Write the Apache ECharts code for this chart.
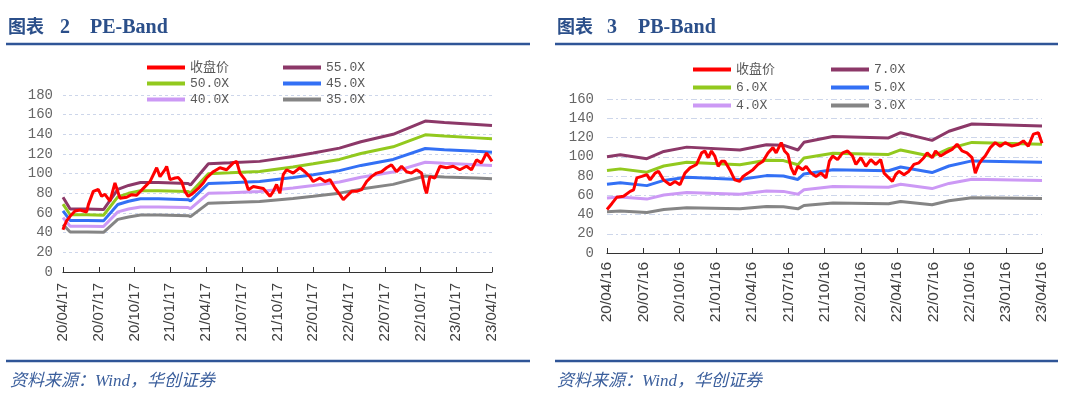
<!DOCTYPE html>
<html>
<head>
<meta charset="utf-8">
<script src="https://cdn.jsdelivr.net/npm/echarts@6/dist/echarts.min.js"></script>
<style>
  html, body { margin: 0; padding: 0; background: #fff; }
  #chart { width: 1080px; height: 399px; }
</style>
</head>
<body>
<div id="chart"></div>
<script>
// x positions are months counted from the first tick (20/04/xx)
var peTicks = ['20/04/17', '20/07/17', '20/10/17', '21/01/17', '21/04/17', '21/07/17', '21/10/17',
    '22/01/17', '22/04/17', '22/07/17', '22/10/17', '23/01/17', '23/04/17'];
var pbTicks = ['20/04/16', '20/07/16', '20/10/16', '21/01/16', '21/04/16', '21/07/16', '21/10/16',
    '22/01/16', '22/04/16', '22/07/16', '22/10/16', '23/01/16', '23/04/16'];

// PE-Band
var pePriceMonth = [0, 0.08, 0.3, 0.59, 1.01, 1.43, 1.98, 2.13, 2.54, 2.96, 3.24, 3.52, 3.94, 4.36, 4.78, 5.34, 5.76, 6.18, 6.74, 7.3,
    7.86, 8.14, 8.56, 8.7, 8.98, 9.4, 9.68, 9.95, 10.23, 10.51, 10.79, 11.35, 11.77, 12.05, 12.61, 13.17, 13.73, 14.29, 14.57, 14.85,
    15.27, 15.55, 15.97, 16.81, 17.37, 17.65, 17.92, 18.2, 18.48, 18.76, 19.32, 19.88, 20.3, 20.72, 21.0, 21.56, 21.98, 22.4, 22.82, 23.24,
    23.52, 23.8, 24.22, 24.64, 25.06, 25.48, 25.89, 26.31, 26.73, 27.15, 27.57, 27.99, 28.41, 28.83, 29.25, 29.67, 30.09, 30.37, 30.51, 30.79,
    31.21, 31.63, 32.19, 32.75, 33.3, 33.86, 34.28, 34.7, 35.12, 35.54, 35.82, 36.0];
var pePrice = [43, 46, 52, 56.6, 62, 63, 61, 68.5, 82, 84, 77, 79, 72, 90.5, 75, 76, 78.6, 78, 85, 92,
    106, 97, 104, 107.5, 94, 95.6, 96, 92, 82, 77, 79, 85, 90.5, 95.6, 102, 106, 104, 111, 112.5, 100.6,
    94, 83.7, 87, 85, 77, 82, 89, 80, 99, 104, 100.6, 106, 102, 97, 92, 95.6, 92, 94, 85.4, 78.6,
    73.6, 77, 82, 82, 83.7, 92, 97, 100.6, 102, 106, 109, 102, 107.5, 102, 100.6, 104, 100.6, 85, 80, 97,
    95.6, 107.5, 106, 107.5, 104, 107.5, 104, 114, 111, 121, 116, 112.5];
var peBandMonth = [0, 0.6, 2, 3.4, 4.6, 5.5, 6.5, 8, 10.5, 10.7, 12.2, 14, 16.5, 19.3, 21, 23.2, 25, 27.7, 30.4, 32, 34.7, 36];
var pe55 = [76, 64, 64, 63.5, 84, 88, 91, 91, 90, 88.5, 110, 111, 112.5, 117.5, 121, 126, 132.5, 140, 153.5, 152, 150, 149];
var pe50 = [69.1, 58.2, 58.2, 57.7, 76.4, 80, 82.7, 82.7, 81.8, 80.5, 100, 100.9, 102.3, 106.8, 110, 114.5, 120.5, 127.3, 139.5, 138.2, 136.4, 135.5];
var pe45 = [62.2, 52.4, 52.4, 52, 68.7, 72, 74.5, 74.5, 73.6, 72.4, 90, 90.8, 92, 96.1, 99, 103.1, 108.4, 114.5, 125.6, 124.4, 122.7, 121.9];
var pe40 = [55.3, 46.5, 46.5, 46.2, 61.1, 64, 66.2, 66.2, 65.5, 64.4, 80, 80.7, 81.8, 85.5, 88, 91.6, 96.4, 101.8, 111.6, 110.5, 109.1, 108.4];
var pe35 = [48.4, 40.7, 40.7, 40.4, 53.5, 56, 57.9, 57.9, 57.3, 56.3, 70, 70.6, 71.6, 74.8, 77, 80.2, 84.3, 89.1, 97.7, 96.7, 95.5, 94.8];

// PB-Band
var pbPriceMonth = [0, 0.41, 0.82, 1.37, 1.92, 2.2, 2.47, 2.88, 3.3, 3.57, 3.98, 4.26, 4.67, 5.22, 5.63, 6.04, 6.45, 6.87, 7.41, 7.83,
    8.1, 8.38, 8.65, 8.92, 9.2, 9.47, 9.75, 10.16, 10.57, 10.98, 11.26, 11.67, 12.08, 12.49, 12.91, 13.32, 13.73, 14.0, 14.42, 14.69,
    14.97, 15.24, 15.51, 15.79, 16.2, 16.48, 16.89, 17.3, 17.71, 18.12, 18.4, 18.67, 19.08, 19.5, 19.91, 20.32, 20.6, 21.01, 21.42, 21.83,
    22.24, 22.65, 22.93, 23.2, 23.62, 23.89, 24.16, 24.58, 24.99, 25.4, 25.81, 26.22, 26.5, 26.91, 27.19, 27.6, 28.01, 28.56, 28.97, 29.38,
    29.79, 30.21, 30.48, 30.76, 31.03, 31.3, 31.72, 32.13, 32.54, 32.95, 33.5, 34.05, 34.46, 34.87, 35.29, 35.7, 36.0];
var pbPrice = [45.2, 51.5, 58, 59, 64, 65.6, 78, 79.6, 81.4, 76, 83, 85, 76, 70.9, 74.4, 70.9, 83, 88.4, 92, 104,
    106, 99, 106, 100.7, 90, 95.4, 95.4, 86.6, 76, 74.4, 79.6, 83, 86.6, 92, 95.4, 104, 109.5, 104, 114.7, 106,
    102.4, 88.4, 81.4, 90, 86.6, 90, 83, 79.6, 83, 78, 95.4, 100.7, 97, 104, 106, 100.7, 92, 99, 90, 97,
    92, 97, 83, 79.6, 74.4, 81.4, 85, 81.4, 85, 92, 93.7, 99, 104, 99, 106, 100.7, 104, 107.7, 113, 106,
    104, 99, 83, 92, 97, 100.7, 109.5, 114.7, 111, 114.7, 111, 113, 116.5, 111, 123.5, 125, 114];
var pbBandMonth = [0, 1.1, 3.3, 4.7, 6.6, 11.0, 13.2, 14.6, 15.8, 16.3, 18.7, 23.3, 24.3, 26.9, 28.3, 30.2, 36];
var pb7 = [100, 102, 98, 105.5, 110, 107, 112.5, 112, 107, 115, 121, 119.5, 125, 117, 126.5, 134, 132];
var pb6 = [85.7, 87.4, 84, 90.4, 94.3, 91.7, 96.4, 96, 91.7, 98.6, 103.7, 102.4, 107.1, 100.3, 108.4, 114.9, 113.1];
var pb5 = [71.4, 72.9, 70, 75.4, 78.6, 76.4, 80.4, 80, 76.4, 82.1, 86.4, 85.4, 89.3, 83.6, 90.4, 95.7, 94.3];
var pb4 = [57.1, 58.3, 56, 60.3, 62.9, 61.1, 64.3, 64, 61.1, 65.7, 69.1, 68.3, 71.4, 66.9, 72.3, 76.6, 75.4];
var pb3 = [42.9, 43.7, 42, 45.2, 47.1, 45.9, 48.2, 48, 45.9, 49.3, 51.9, 51.2, 53.6, 50.1, 54.2, 57.4, 56.6];

var RED = '#ff0000', PURPLE = '#8c3868', GREEN = '#92c91e', BLUE = '#3370f5', LILAC = '#cc99f5', GRAY = '#858585';
var RULE = '#2f5597';
var MONO = "'Liberation Mono', 'Noto Sans CJK SC', monospace";

function pairs(xs, ys) {
    return ys.map(function (v, i) { return [xs[i], v]; });
}

function line(name, idx, xs, ys, color, width) {
    return {
        name: name,
        type: 'line',
        xAxisIndex: idx,
        yAxisIndex: idx,
        data: pairs(xs, ys),
        showSymbol: false,
        symbol: 'none',
        color: color,
        lineStyle: { color: color, width: width },
        animation: false
    };
}

function xAxisFor(idx, ticks, fontSize, margin) {
    return {
        type: 'value',
        gridIndex: idx,
        min: 0,
        max: 36,
        interval: 3,
        splitLine: { show: false },
        axisLine: { lineStyle: { color: '#333', width: 1.2 } },
        axisTick: { inside: true, length: 5, lineStyle: { color: '#333' } },
        axisLabel: {
            rotate: 90,
            margin: margin,
            fontSize: fontSize,
            fontFamily: "'Liberation Sans', Arial, sans-serif",
            color: '#404040',
            formatter: function (v) { return ticks[Math.round(v / 3)] || ''; }
        }
    };
}

function yAxisFor(idx, max, margin, dash) {
    return {
        type: 'value',
        gridIndex: idx,
        min: 0,
        max: max,
        interval: 20,
        axisLine: { show: false },
        axisTick: { show: false },
        splitLine: { lineStyle: { color: '#cdd6ea', type: dash, width: 1 } },
        axisLabel: { margin: margin, fontSize: 14, fontFamily: MONO, color: '#666' }
    };
}

function legendCol(names, left, top, gap) {
    return {
        orient: 'vertical',
        left: left,
        top: top,
        padding: 0,
        itemGap: gap,
        itemWidth: 38,
        itemHeight: 4,
        icon: 'rect',
        data: names,
        textStyle: { fontFamily: MONO, fontSize: 13, color: '#595959' }
    };
}

function header(x, num, numX, name, nameX) {
    return [
        { type: 'text', left: x, top: 17, style: { text: '图表', font: 'bold 18px "Noto Sans CJK SC"', fill: '#2b4f8a' } },
        { type: 'text', left: numX, top: 18, style: { text: num, font: 'bold 20px "Liberation Serif"', fill: '#2b4f8a' } },
        { type: 'text', left: nameX, top: 18, style: { text: name, font: 'bold 20px "Liberation Serif"', fill: '#2b4f8a' } }
    ];
}

function rule(x1, x2, y) {
    return { type: 'line', shape: { x1: x1, y1: y, x2: x2, y2: y }, style: { stroke: RULE, lineWidth: 2.5 } };
}

function source(x) {
    return {
        type: 'text', left: x, top: 373,
        style: { text: '资料来源：Wind，华创证券', font: 'italic 17px "Liberation Serif", "Noto Sans CJK SC"', fill: '#3a5e9c' }
    };
}

var chart = echarts.init(document.getElementById('chart'));

chart.setOption({
    animation: false,
    backgroundColor: '#fff',
    grid: [
        { left: 63, top: 95, width: 429, height: 177 },
        { left: 607, top: 99, width: 435, height: 154 }
    ],
    xAxis: [xAxisFor(0, peTicks, 15, 11), xAxisFor(1, pbTicks, 15.5, 9)],
    yAxis: [yAxisFor(0, 180, 10, [3, 3]), yAxisFor(1, 160, 13, [6, 3, 2, 3])],
    legend: [
        legendCol(['收盘价', '50.0X', '40.0X'], 147, 61, 3),
        legendCol(['55.0X', '45.0X', '35.0X'], 283, 61, 3),
        legendCol(['收盘价 ', '6.0X', '4.0X'], 693, 63, 5),
        legendCol(['7.0X', '5.0X', '3.0X'], 831, 63, 5)
    ],
    graphic: [].concat(
        header(8, '2', 60, 'PE-Band', 90),
        header(557, '3', 607, 'PB-Band', 638),
        [rule(6, 530, 44), rule(555, 1058, 44), rule(6, 530, 361), rule(555, 1058, 361), source(10), source(557)]
    ),
    series: [
        line('55.0X', 0, peBandMonth, pe55, PURPLE, 3),
        line('50.0X', 0, peBandMonth, pe50, GREEN, 3),
        line('45.0X', 0, peBandMonth, pe45, BLUE, 3),
        line('40.0X', 0, peBandMonth, pe40, LILAC, 3),
        line('35.0X', 0, peBandMonth, pe35, GRAY, 3),
        line('收盘价', 0, pePriceMonth, pePrice, RED, 3),
        line('7.0X', 1, pbBandMonth, pb7, PURPLE, 3),
        line('6.0X', 1, pbBandMonth, pb6, GREEN, 3),
        line('5.0X', 1, pbBandMonth, pb5, BLUE, 3),
        line('4.0X', 1, pbBandMonth, pb4, LILAC, 3),
        line('3.0X', 1, pbBandMonth, pb3, GRAY, 3),
        line('收盘价 ', 1, pbPriceMonth, pbPrice, RED, 3)
    ]
});

window.addEventListener('resize', function () {
    chart.resize();
});
</script>
</body>
</html>
